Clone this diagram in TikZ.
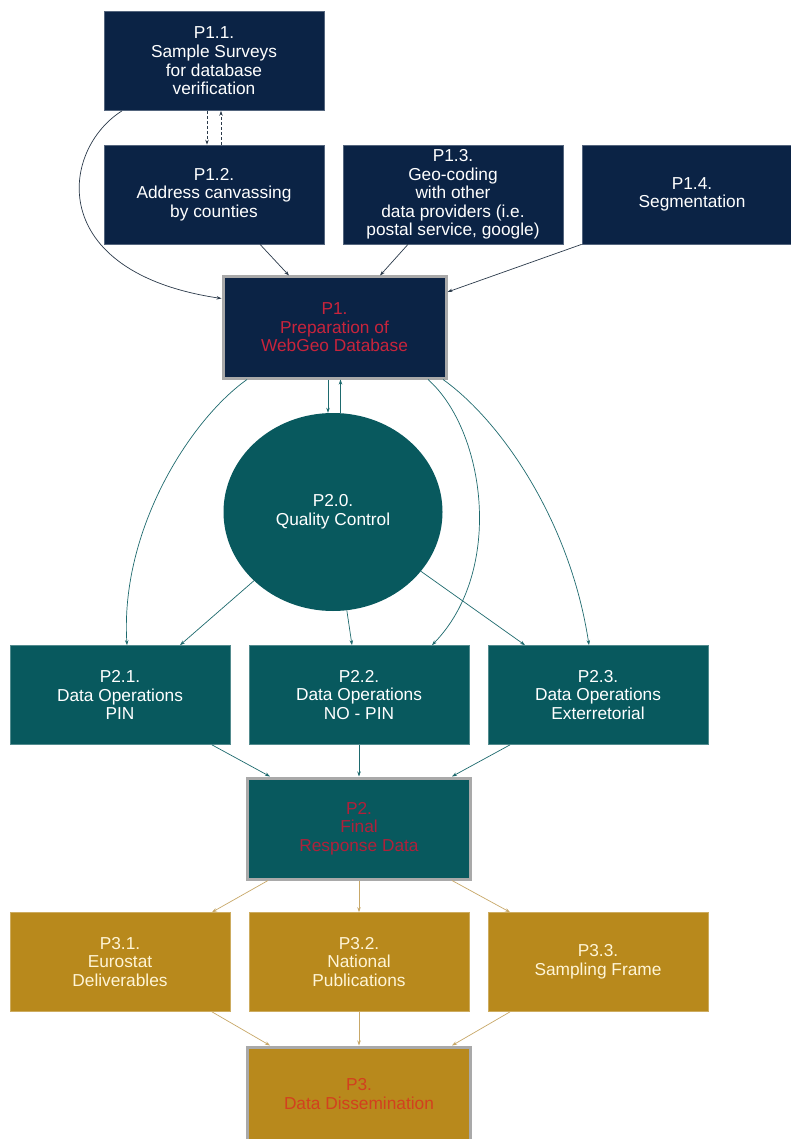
\documentclass[tikz,border=0pt]{standalone}
\usepackage{fontspec}
\setmainfont{Liberation Sans}
\usetikzlibrary{shapes.geometric,arrows.meta}
\definecolor{navy}{HTML}{0B2345}
\definecolor{tealc}{HTML}{08595E}
\definecolor{goldc}{HTML}{B8891C}
\definecolor{frame}{HTML}{A9A9A9}
\definecolor{redA}{HTML}{C8243C}
\definecolor{redB}{HTML}{B0203A}
\definecolor{redC}{HTML}{D2401E}
\definecolor{cream}{HTML}{FFF5D6}
\definecolor{arrNavy}{HTML}{2B3A4A}
\definecolor{arrTeal}{HTML}{1E6A6E}
\definecolor{arrGold}{HTML}{C8A868}
\begin{document}
\begin{tikzpicture}[x=1pt,y=-1pt,
  txt/.style={align=center,font=\fontsize{17.3}{18.6}\selectfont},
  box/.style={txt,rectangle,minimum width=220pt,minimum height=99pt,inner sep=2pt,draw=#1!70!white,line width=0.7pt},
  navybox/.style={box=navy,fill=navy,text=white},
  tealbox/.style={box=tealc,fill=tealc,text=white},
  goldbox/.style={box=goldc,fill=goldc,text=cream},
  mainbox/.style={txt,rectangle,minimum width=223pt,minimum height=101pt,draw=frame,line width=3pt,fill=#1},
  arr/.style={-{Stealth[length=5pt,width=3.5pt]},line width=0.7pt},
  arrN/.style={arr,draw=arrNavy},
  arrT/.style={arr,draw=arrTeal},
  arrG/.style={arr,draw=arrGold}]
\useasboundingbox (0,0) rectangle (790,1139);
\fill[white] (0,0) rectangle (790,1139);
% level 1
\node[navybox] (p11) at (214,61) {P1.1.\\Sample Surveys\\for database\\verification};
\node[navybox] (p12) at (214,194.5) {P1.2.\\Address canvassing\\by counties};
\node[navybox] (p13) at (453,194.5) {P1.3.\\Geo-coding\\with other\\data providers (i.e.\\postal service, google)};
\node[navybox] (p14) at (692,194.5) {P1.4.\\Segmentation};
\node[mainbox=navy,text=redA] (p1) at (334.5,327.5) {P1.\\Preparation of\\WebGeo Database};
% level 2
\node[ellipse,fill=tealc,minimum width=219pt,minimum height=198pt,inner sep=0pt,txt,text=white] (qc) at (333,512) {P2.0.\\Quality Control};
\node[tealbox] (p21) at (120,695) {P2.1.\\Data Operations\\PIN};
\node[tealbox] (p22) at (359,695) {P2.2.\\Data Operations\\NO - PIN};
\node[tealbox] (p23) at (598,695) {P2.3.\\Data Operations\\Exterretorial};
\node[mainbox=tealc,text=redB] (p2) at (359,828.5) {P2.\\Final\\Response Data};
% level 3
\node[goldbox] (p31) at (120,962) {P3.1.\\Eurostat\\Deliverables};
\node[goldbox] (p32) at (359,962) {P3.2.\\National\\Publications};
\node[goldbox] (p33) at (598,962) {P3.3.\\Sampling Frame};
\node[mainbox=goldc,minimum height=130pt] (p3) at (359,1112) {};
\node[txt,text=redC] (p3t) at (359,1094) {P3.\\Data Dissemination};
% connectors top
\draw[arrN,dash pattern=on 3pt off 2pt] ([xshift=-7pt]p11.south) -- ([xshift=-7pt]p12.north);
\draw[arrN,dash pattern=on 3pt off 2pt] ([xshift=7pt]p12.north) -- ([xshift=7pt]p11.south);
\draw[arrN] ([xshift=-92pt]p11.south) .. controls (60,150) and (45,272) .. ([yshift=29pt]p1.west);
\draw[arrN] ([xshift=46pt]p12.south) -- ([xshift=-45.5pt]p1.north);
\draw[arrN] ([xshift=-45pt]p13.south) -- ([xshift=45.5pt]p1.north);
\draw[arrN] (p14.south west) -- ([yshift=35.5pt]p1.east);
% P1 <-> QC
\draw[arrT] ([xshift=-6.5pt]p1.south) -- ([xshift=-6.5pt]p1.south |- qc.north);
\draw[arrT] ([xshift=6pt]p1.south |- qc.north) -- ([xshift=6pt]p1.south);
% P1 curves to level 2
\draw[arrT] ([xshift=-87.5pt]p1.south) .. controls (190,420) and (120,530) .. ([xshift=7pt]p21.north);
\draw[arrT] ([xshift=93.5pt]p1.south) .. controls (485,430) and (505,570) .. ([xshift=73pt]p22.north);
\draw[arrT] ([xshift=108.5pt]p1.south) .. controls (500,420) and (570,520) .. ([xshift=-9pt]p23.north);
% QC to level 2
\draw[arrT] (qc.221) -- ([xshift=60pt]p21.north);
\draw[arrT] (qc.278) -- ([xshift=-7pt]p22.north);
\draw[arrT] (qc.326) -- ([xshift=-73pt]p23.north);
% level 2 to P2
\draw[arrT] ([xshift=92pt]p21.south) -- ([xshift=-89pt]p2.north);
\draw[arrT] (p22.south) -- (p2.north);
\draw[arrT] ([xshift=-88pt]p23.south) -- ([xshift=93pt]p2.north);
% P2 to level 3
\draw[arrG] ([xshift=-91pt]p2.south) -- ([xshift=92pt]p31.north);
\draw[arrG] (p2.south) -- (p32.north);
\draw[arrG] ([xshift=93pt]p2.south) -- ([xshift=-88pt]p33.north);
% level 3 to P3
\draw[arrG] ([xshift=92pt]p31.south) -- ([xshift=-89pt]p3.north);
\draw[arrG] (p32.south) -- (p3.north);
\draw[arrG] ([xshift=-88pt]p33.south) -- ([xshift=93pt]p3.north);
\end{tikzpicture}
\end{document}
